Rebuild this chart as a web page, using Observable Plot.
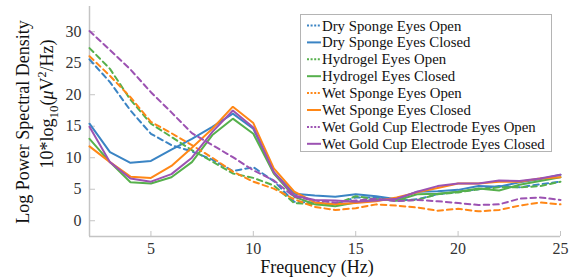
<!DOCTYPE html>
<html>
<head>
<meta charset="utf-8">
<script src="https://cdn.jsdelivr.net/npm/d3@7"></script>
<script src="https://cdn.jsdelivr.net/npm/@observablehq/plot@0.6"></script>
<style>
  html, body { margin: 0; padding: 0; background: #fff; }
  #chart { width: 571px; height: 278px; }
</style>
</head>
<body>
<div id="chart"></div>
<script>
const freq = [2,3,4,5,6,7,8,9,10,11,12,13,14,15,16,17,18,19,20,21,22,23,24,25];

const dryOpen     = [25.6,22.0,17.5,13.8,12.0,11.0,9.7,7.9,8.5,6.3,3.0,2.9,2.6,3.7,3.7,3.2,3.4,4.2,4.6,5.0,5.5,5.3,5.8,6.2];
const dryClosed   = [15.4,10.9,9.2,9.5,11.3,13.0,14.9,17.0,14.6,7.7,4.3,4.0,3.8,4.2,3.9,3.4,4.6,4.7,4.9,5.5,5.4,6.1,6.6,7.3];
const hydroOpen   = [27.4,24.1,19.2,15.4,13.3,11.2,9.4,7.5,6.8,5.6,2.8,2.6,2.6,3.9,3.4,3.2,3.3,4.2,4.5,5.0,5.3,5.3,5.5,6.2];
const hydroClosed = [13.0,9.3,6.1,5.9,6.9,9.3,13.6,16.2,13.8,7.5,3.8,2.6,2.3,2.9,3.4,3.2,4.2,4.3,4.6,5.1,4.8,5.7,6.3,6.9];
const wetOpen     = [26.1,23.0,19.6,15.7,13.9,12.0,10.0,7.8,6.2,5.1,3.4,2.2,1.7,2.0,2.6,2.4,2.1,1.6,1.9,1.5,1.7,2.4,2.9,2.6];
const wetClosed   = [11.8,9.3,7.0,6.8,8.7,11.6,14.6,18.1,15.5,8.3,4.6,2.9,2.6,2.8,3.1,3.7,4.5,5.2,5.9,5.9,6.2,6.2,6.7,6.9];
const goldOpen    = [30.1,27.1,24.0,20.4,17.2,13.9,12.0,10.1,8.0,6.4,3.8,3.2,2.9,3.2,3.5,3.1,3.3,3.1,2.8,2.5,2.6,3.5,3.7,3.3];
const goldClosed  = [14.9,9.3,6.7,6.2,7.4,10.0,14.1,17.5,14.8,7.7,4.0,3.3,3.2,3.0,3.2,3.5,4.6,5.5,5.9,5.9,6.4,6.3,6.7,7.3];

const seriesNames = [
  "Dry Sponge Eyes Open", "Dry Sponge Eyes Closed",
  "Hydrogel Eyes Open", "Hydrogel Eyes Closed",
  "Wet Sponge Eyes Open", "Wet Sponge Eyes Closed",
  "Wet Gold Cup Electrode Eyes Open", "Wet Gold Cup Electrode Eyes Closed"
];
const seriesValues = [dryOpen, dryClosed, hydroOpen, hydroClosed, wetOpen, wetClosed, goldOpen, goldClosed];
const seriesColors = ["#3a84c4","#3a84c4","#56b04c","#56b04c","#ff8716","#ff8716","#9c52b2","#9c52b2"];
const seriesDashed = [true,false,true,false,true,false,true,false];

const xDomain = [2, 25];
const yDomain = [-2.5, 34];
const xTicks = [5, 10, 15, 20, 25];
const yTicks = [0, 5, 10, 15, 20, 25, 30];

const xLabel = "Frequency (Hz)";
const yLabel1 = "Log Power Spectral Density";

const rows = [];
seriesNames.forEach((name, s) => {
  freq.forEach((f, i) => rows.push({series: name, s, f, v: seriesValues[s][i]}));
});

const font = "'Liberation Serif', 'Times New Roman', Times, 'DejaVu Serif', serif";
const axisColor = "#c4c4c4";
const textColor = "#333333";

const lineMarks = seriesNames.map((name, s) =>
  Plot.line(rows.filter(d => d.s === s), {
    x: "f", y: "v",
    stroke: seriesColors[s],
    strokeWidth: 2,
    strokeDasharray: seriesDashed[s] ? "5.5,4" : null,
    strokeLinejoin: "miter"
  })
);

const plot = Plot.plot({
  width: 571,
  height: 278,
  marginLeft: 89,
  marginRight: 11,
  marginTop: 6,
  marginBottom: 42,
  style: {"font-family": font, "background": "#fff"},
  x: {domain: xDomain},
  y: {domain: yDomain},
  marks: [
    Plot.ruleX([xDomain[0]], {stroke: axisColor, strokeWidth: 1.5}),
    Plot.ruleY([yDomain[0]], {stroke: axisColor, strokeWidth: 1.5}),
    Plot.axisX(xTicks, {tickSize: -5, tickPadding: 11, stroke: axisColor, color: textColor, fontSize: 16, label: null}),
    Plot.axisY(yTicks, {tickSize: -6, tickPadding: 14, stroke: axisColor, color: textColor, fontSize: 16, label: null}),
    ...lineMarks
  ]
});

document.getElementById("chart").appendChild(plot);

const svg = d3.select(plot);
svg.attr("font-family", font).style("font-family", font);

// x axis title
svg.append("text")
  .attr("x", 317).attr("y", 272.5)
  .attr("text-anchor", "middle")
  .style("font-family", font).attr("font-size", 18)
  .attr("fill", "#111")
  .text(xLabel);

// y axis title (two lines)
svg.append("text")
  .attr("transform", "translate(29,122) rotate(-90)")
  .attr("text-anchor", "middle")
  .style("font-family", font).attr("font-size", 18)
  .attr("fill", "#111")
  .text(yLabel1);

const y2 = svg.append("text")
  .attr("transform", "translate(53,104) rotate(-90)")
  .attr("text-anchor", "middle")
  .style("font-family", font).attr("font-size", 18)
  .attr("fill", "#111");
y2.append("tspan").text("10*log");
y2.append("tspan").attr("font-size", 13).attr("dy", 5).text("10");
y2.append("tspan").attr("dy", -5).text("(");
y2.append("tspan").attr("font-style", "italic").text("\u03bc");
y2.append("tspan").text("V");
y2.append("tspan").attr("font-size", 12).attr("dy", -7).text("2");
y2.append("tspan").attr("dy", 7).text("/Hz)");

// legend
const lg = svg.append("g").attr("text-anchor", "start");
lg.append("rect")
  .attr("x", 300.5).attr("y", 14.5)
  .attr("width", 251).attr("height", 137)
  .attr("fill", "#fff").attr("stroke", "#b4b4b4").attr("stroke-width", 1);
seriesNames.forEach((name, s) => {
  const cy = 25.5 + s * 16.9;
  lg.append("line")
    .attr("x1", 307).attr("x2", 321)
    .attr("y1", cy).attr("y2", cy)
    .attr("stroke", seriesColors[s]).attr("stroke-width", 2)
    .attr("stroke-dasharray", seriesDashed[s] ? "2,1.6" : null);
  lg.append("text")
    .attr("x", 322).attr("y", cy + 5)
    .attr("text-anchor", "start")
    .style("font-family", font).attr("font-size", 14.8)
    .attr("fill", "#111")
    .text(name);
});
</script>
</body>
</html>
